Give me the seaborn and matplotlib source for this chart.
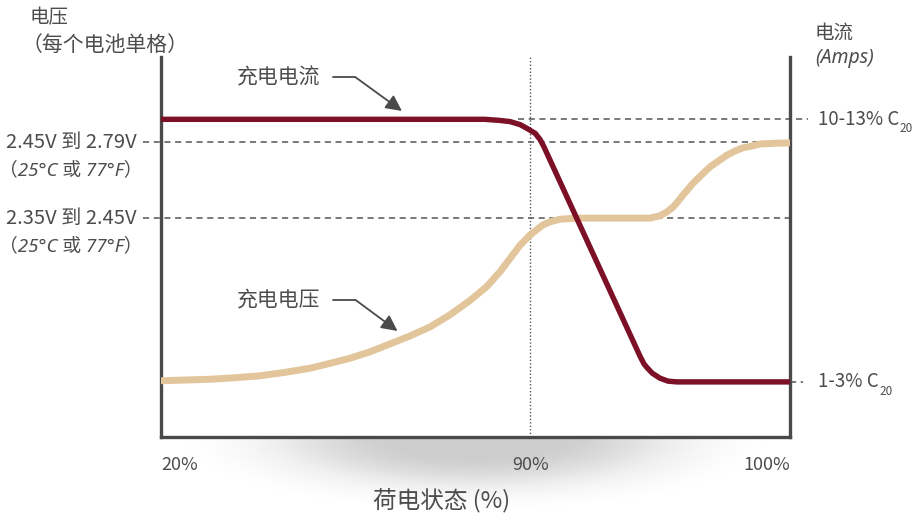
import numpy as np
import pandas as pd
import matplotlib
matplotlib.use("Agg")
import matplotlib.pyplot as plt
import seaborn as sns

# state-of-charge axis is drawn on a 0-100 position scale (labels are not linear)
tick_pos = [0, 58.7, 100]
tick_labels = ["20%", "90%", "100%"]
dotted_x = 58.7

# charge current (red line), position units
current_x = [0, 51.5, 53.9, 55.5, 57.1, 58.2, 59.5, 60.3, 60.9,
             76.2, 76.8, 77.3, 78.1, 79.3, 80.6, 82.0, 100]
current_y = [83.6, 83.6, 83.3, 83.0, 82.2, 81.2, 79.9, 78.2, 76.3,
             21.1, 19.2, 18.2, 16.8, 15.5, 14.7, 14.5, 14.5]

# charge voltage (tan line)
voltage_x = [0, 7.8, 11.8, 15.7, 19.7, 23.7, 26.9, 30.0, 33.2, 36.4, 39.6, 42.8, 45.9,
             49.1, 51.8, 53.9, 55.5, 57.1, 58.7, 60.7, 61.8, 63.4, 66.1, 77.7,
             79.3, 80.4, 81.4, 82.2, 83.0, 84.6, 85.9, 87.3, 88.6, 90.0, 91.3, 92.5,
             94.0, 95.2, 97.6, 100]
voltage_y = [14.8, 15.2, 15.6, 16.1, 17.0, 18.1, 19.4, 20.7, 22.4, 24.5, 26.6, 29.0, 32.1,
             35.9, 39.6, 43.5, 47.0, 50.5, 53.2, 55.8, 56.6, 57.3, 57.6, 57.6,
             58.2, 59.2, 60.5, 62.0, 63.7, 66.8, 68.9, 71.1, 72.6, 74.2, 75.3, 76.1,
             76.6, 77.1, 77.3, 77.4]

# reference levels
v_high, v_low = 77.6, 57.6
i_high, i_low = 83.6, 14.5
v_labels = ["2.45V 到 2.79V", "2.35V 到 2.45V"]
temp_label = "（25°C 或 77°F）"
i_labels = ["10-13% C", "1-3% C"]

RED = "#7b1026"
TAN = "#e2c59b"
GREY = "#4a4a4a"
TXT = "#4d4d4d"

sns.set_style("white")
plt.rcParams["font.family"] = ["Noto Sans CJK SC", "DejaVu Sans"]

fig = plt.figure(figsize=(9.15, 5.13), dpi=100)

# soft shadow under the chart
sh = fig.add_axes([170 / 915, 0, 610 / 915, 76 / 513], zorder=0)
gx = np.linspace(-1, 1, 500)
gy = np.linspace(0, 1, 90)
GX, GY = np.meshgrid(gx, gy)
r = np.sqrt(GX ** 2 + GY ** 2)
t = np.clip((r - 0.25) / 0.75, 0, 1)
shade = 0.3 * (1 - t * t * (3 - 2 * t))
sh.imshow(shade, cmap="Greys", vmin=0, vmax=1, aspect="auto", extent=[0, 1, 0, 1])
sh.axis("off")

ax = fig.add_axes([161 / 915, 76 / 513, 629 / 915, 380 / 513], zorder=1)
ax.patch.set_alpha(0)

df_i = pd.DataFrame({"x": current_x, "y": current_y})
df_v = pd.DataFrame({"x": voltage_x, "y": voltage_y})

dash = dict(color="#555555", lw=1.1, dashes=(4, 3), clip_on=False, zorder=1)
ax.plot([-2.9, 100], [v_high, v_high], **dash)
ax.plot([-2.9, 100], [v_low, v_low], **dash)
ax.plot([56.8, 102.9], [i_high, i_high], **dash)
ax.plot([100, 102], [i_low, i_low], **dash)
ax.axvline(dotted_x, color="#555555", lw=1, ls=(0, (1, 1.5)), zorder=1)

sns.lineplot(data=df_v, x="x", y="y", ax=ax, color=TAN, lw=5, sort=False,
             estimator=None, zorder=3)
sns.lineplot(data=df_i, x="x", y="y", ax=ax, color=RED, lw=3.9, sort=False,
             estimator=None, zorder=4)
for ln in ax.get_lines():
    ln.set_solid_joinstyle("round")

ax.set_xlim(0, 100)
ax.set_ylim(0, 100)
ax.set_xlabel("")
ax.set_ylabel("")
ax.set_yticks([])
ax.set_xticks(tick_pos, tick_labels)
ax.tick_params(axis="x", length=0, pad=14, labelsize=13, labelcolor=TXT)
for lab, ha in zip(ax.get_xticklabels(), ["left", "center", "right"]):
    lab.set_ha(ha)
ax.spines["top"].set_visible(False)
for s in ["left", "right", "bottom"]:
    ax.spines[s].set_color(GREY)
    ax.spines[s].set_linewidth(2.4)

# annotations with arrows
for txt, ty, tip in [("充电电流", 94.7, (38.3, 85.8)), ("充电电压", 36.1, (37.6, 27.9))]:
    ax.text(12.1, ty, txt, fontsize=15, color=TXT, va="center", ha="left")
    ax.plot([27.4, 30.9], [ty, ty], color=GREY, lw=1.3)
    ax.annotate("", xy=tip, xytext=(30.9, ty),
                arrowprops=dict(arrowstyle="-|>", color=GREY, lw=1.3, mutation_scale=24,
                                shrinkA=0, shrinkB=0))

# left level labels
italic = ["Noto Sans", "Noto Sans CJK SC"]
for lab, yv in zip(v_labels, [v_high, v_low]):
    ax.text(-3.9, yv, lab, fontsize=14.5, color=TXT, ha="right", va="center", clip_on=False)
    ax.text(-3.0, yv - 7.3, temp_label, fontsize=13.5, color=TXT, ha="right", va="center",
            style="italic", family=italic, clip_on=False)

# right level labels with subscript
for lab, yv in zip(i_labels, [i_high, i_low]):
    t = ax.text(104.5, yv, lab, fontsize=13.5, color=TXT, ha="left", va="center",
                clip_on=False)
    ax.annotate("20", xy=(1, 0.05), xycoords=t, fontsize=8.5, color=TXT, ha="left",
                va="center")

# axis titles
fig.text(30 / 915, 1 - 18 / 513, "电压", fontsize=14, color=TXT, ha="left", va="center")
fig.text(22 / 915, 1 - 45 / 513, "（每个电池单格）", fontsize=15, color=TXT, ha="left",
         va="center", style="italic")
fig.text(815 / 915, 1 - 33 / 513, "电流", fontsize=14, color=TXT, ha="left", va="center")
fig.text(815 / 915, 1 - 58 / 513, "(Amps)", fontsize=14, color=TXT, ha="left", va="center",
         style="italic", family=italic)
fig.text(442 / 915, 1 - 501 / 513, "荷电状态 (%)", fontsize=17, color=TXT, ha="center",
         va="center")

fig.savefig("out.png", dpi=100)
